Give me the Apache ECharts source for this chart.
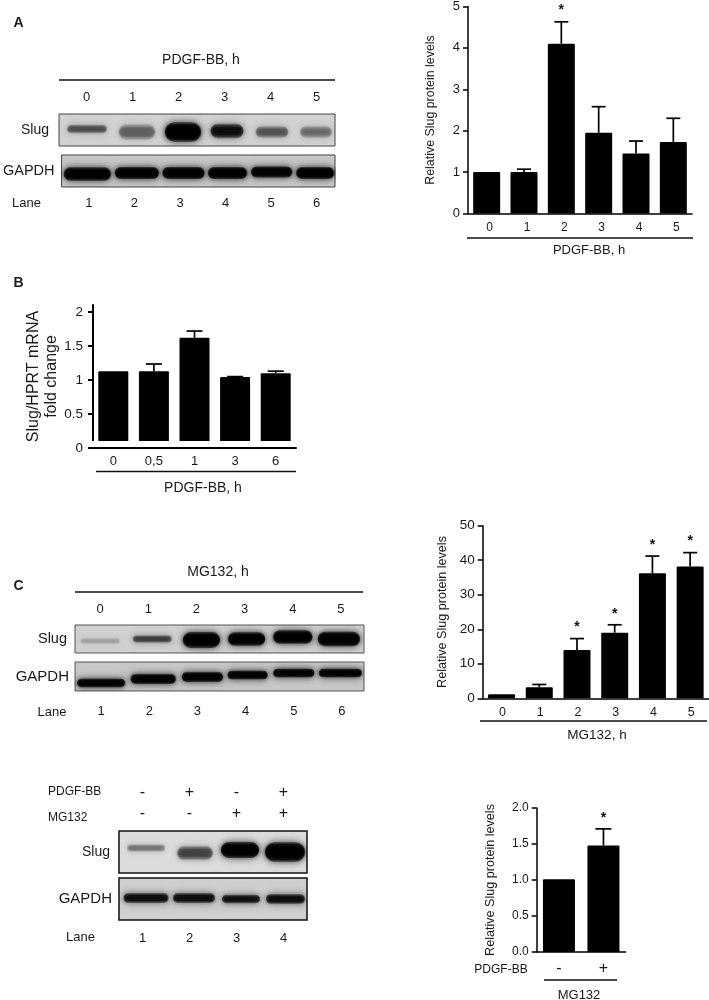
<!DOCTYPE html>
<html><head><meta charset="utf-8">
<script src="https://cdn.jsdelivr.net/npm/echarts@6/dist/echarts.min.js"></script>
<style>html,body{margin:0;padding:0;background:#fff}#c{width:709px;height:1000px}</style></head>
<body><div id="c"></div>
<script>
// ---- bar chart data ----
const hoursA = ['0','1','2','3','4','5'];
const slugA = [1, 1, 4.1, 1.95, 1.45, 1.73];
const slugAErr = [1, 1.07, 4.63, 2.58, 1.75, 2.3];
const slugAStar = [0, 0, 1, 0, 0, 0];

const hoursB = ['0','0,5','1','3','6'];
const mrnaB = [1.13, 1.13, 1.62, 1.045, 1.1];
const mrnaBErr = [1.13, 1.235, 1.72, 1.05, 1.13];
const mrnaBTicks = [0, 0.5, 1, 1.5, 2];

const hoursC = ['0','1','2','3','4','5'];
const slugC = [1.2, 3.2, 14, 19, 36.2, 38.2];
const slugCErr = [1.2, 4, 17.3, 21.3, 41.2, 42.2];
const slugCStar = [0, 0, 1, 1, 1, 1];

const signD = ['-', '+'];
const slugD = [1.01, 1.48];
const slugDErr = [1.01, 1.71];
const slugDStar = [0, 1];

// ---- blot band intensities (0..1) ----
const lanesSix = ['1','2','3','4','5','6'];
const lanesFour = ['1','2','3','4'];
const blotASlug = [0.28, 0.2, 1, 0.6, 0.24, 0.18];
const blotAGapdh = [0.97, 0.98, 0.98, 0.97, 0.95, 0.97];
const blotCSlug = [0.08, 0.34, 1, 1, 1, 1];
const blotCGapdh = [0.95, 0.95, 0.95, 0.95, 0.95, 0.95];
const blotDSlug = [0.18, 0.3, 1, 1];
const blotDGapdh = [0.62, 0.62, 0.62, 0.62];
const rowPdgf = ['-', '+', '-', '+'];
const rowMg = ['-', '-', '+', '+'];

const FONT = '"Liberation Sans", Arial, sans-serif';
const INK = '#1a1a1a';

const grid = [], xAxis = [], yAxis = [], series = [], graphic = [];

function text(str, x, y, size, opt) {
  opt = opt || {};
  graphic.push({type:'text', x, y, silent:true, rotation: opt.rotation || 0,
    style:{text:str, fontSize:size, fontFamily:opt.family||FONT, fontWeight:opt.weight||'normal',
      fill:INK, textAlign:opt.align||'center', textVerticalAlign:'middle', align:opt.align||'center', verticalAlign:'middle'}});
}
function rule(x1, x2, y, w) {
  graphic.push({type:'line', silent:true, shape:{x1, y1:y, x2, y2:y}, style:{stroke:'#111', lineWidth:w||1.5}});
}

function barChart(c) {
  const g = grid.length;
  grid.push({left:c.left, top:c.top, width:c.width, height:c.height});
  xAxis.push({gridIndex:g, type:'category', data:c.cats,
    axisLine:{lineStyle:{color:'#000', width:c.axisW||1.5}}, axisTick:{show:false},
    axisLabel:{color:INK, fontFamily:FONT, fontSize:c.xFont, margin:c.xMargin, padding:c.xPad||0}});
  const yLabel = {color:INK, fontFamily:FONT, fontSize:c.yFont, margin:c.yMargin||4, formatter:c.yFmt};
  const yTick = {show:true, length:c.tick||5, lineStyle:{color:'#000', width:c.axisW||1.5}};
  if (c.ticks) { yLabel.customValues = c.ticks; yTick.customValues = c.ticks; }
  const yDef = {gridIndex:g, type:'value', min:0, max:c.max,
    splitLine:{show:false},
    axisLine:{show:true, lineStyle:{color:'#000', width:c.axisW||1.5}},
    axisTick:yTick, axisLabel:yLabel,
    name:c.yName, nameLocation:'middle', nameGap:c.nameGap,
    nameTextStyle:{color:INK, fontFamily:FONT, fontSize:c.nameFont, lineHeight:c.nameLH||undefined}};
  if (c.interval) yDef.interval = c.interval;
  yAxis.push(yDef);
  const xi = xAxis.length-1, yi = yAxis.length-1;
  series.push({type:'bar', xAxisIndex:xi, yAxisIndex:yi, data:c.values, barWidth:c.barW,
    itemStyle:{color:'#000', borderRadius:[1,1,0,0]}, silent:true, animation:false});
  const capW = c.cap, stars = c.stars || [];
  series.push({type:'custom', xAxisIndex:xi, yAxisIndex:yi, silent:true, animation:false, clip:false, z:3,
    data:c.values.map((v,i)=>[i, v, c.errs[i], stars[i]||0]),
    encode:{x:0, y:2},
    renderItem:(p, api)=>{
      const a = api.coord([api.value(0), api.value(1)]), b = api.coord([api.value(0), api.value(2)]);
      const ls = {stroke:'#000', lineWidth:1.7};
      const ch = [];
      if (api.value(2) > api.value(1)) {
        ch.push({type:'line', shape:{x1:a[0], y1:a[1], x2:b[0], y2:b[1]}, style:ls});
        ch.push({type:'line', shape:{x1:b[0]-capW, y1:b[1], x2:b[0]+capW, y2:b[1]}, style:ls});
      }
      if (api.value(3)) ch.push({type:'text', x:b[0], y:b[1]-c.starGap, style:{text:'*', fontSize:14, fontWeight:'bold',
        fontFamily:FONT, fill:'#111', align:'center', verticalAlign:'middle'}});
      return {type:'group', children:ch};
    }});
}

function blot(c) {
  const g = grid.length;
  grid.push({show:true, left:c.left, top:c.top, width:c.width, height:c.height,
    backgroundColor:c.bg, borderColor:c.border, borderWidth:c.borderW||1});
  xAxis.push({gridIndex:g, type:'category', data:c.labels, position:c.pos||'bottom',
    axisLine:{show:false}, axisTick:{show:false},
    axisLabel:{color:INK, fontFamily:FONT, fontSize:c.labelFont||13, margin:c.labelMargin, padding:c.labelPad||0}});
  yAxis.push({gridIndex:g, type:'category', data:[c.name], axisLine:{show:false}, axisTick:{show:false},
    axisLabel:{color:INK, fontFamily:FONT, fontSize:c.nameFont, margin:c.nameMargin}});
  const L = c.layout;
  series.push({type:'custom', xAxisIndex:xAxis.length-1, yAxisIndex:yAxis.length-1, silent:true, animation:false, clip:true,
    data:c.values.map((v,i)=>[i, 0, v]), encode:{x:0, y:1},
    renderItem:(p, api)=>{
      const i = api.value(0), I = api.value(2), o = api.coord([i, 0]);
      const cx = o[0]+L.nx[i], cy = o[1]+L.ny[i], w = L.w[i], h = L.h[i];
      const ch = [];
      // stacked blurred pills: soft halo first, denser core on top
      [[1.22, 0.55, 8], [1, 0.6, 5], [0.72, 0.7, 3]].forEach(s => {
        const ww = w*(s[0]*0.14+0.84), hh = Math.max(h*s[0], 2);
        ch.push({type:'rect', shape:{x:cx-ww/2, y:cy-hh/2, width:ww, height:hh, r:hh/2},
          style:{fill:'rgba(0,0,0,'+(I*s[1]).toFixed(3)+')', shadowBlur:s[2], shadowColor:'#000'}});
      });
      return {type:'group', children:ch};
    }});
}

// ---------- Panel A blot ----------
blot({left:59, top:114, width:276, height:32, bg:'#d2d2d2', border:'#444', name:'Slug', nameFont:14, nameMargin:10,
  values:blotASlug, labels:hoursA, pos:'top', labelMargin:10, labelPad:[0,0,0,9],
  layout:{nx:[5,9,9,7,6,4], ny:[-1,2,2,1,2,2], w:[40,37,36,33,33,32], h:[7,13,16,12,10,10]}});
blot({left:59, top:155, width:276, height:32, bg:'#c8c8c8', border:'#444', name:'GAPDH', nameFont:14.5, nameMargin:7,
  values:blotAGapdh, labels:lanesSix, pos:'bottom', labelMargin:10, labelPad:[0,0,0,9],
  layout:{nx:[3,7,8,6.5,5,3], ny:[3,2,2,2,1,2], w:[47,44,42,39,41,38], h:[11,10,10,10,9,10]}});
text('PDGF-BB, h', 201, 60, 14);
rule(59, 335, 80);
text('Lane', 26.5, 203, 13);

// ---------- Panel A bars ----------
barChart({left:468, top:5.5, width:224, height:208, cats:hoursA, values:slugA, errs:slugAErr, stars:slugAStar, max:5, interval:1,
  barW:27, cap:7, starGap:12, xFont:12, xMargin:8, xPad:[0,0,0,6], yFont:13, yMargin:8,
  yName:'Relative Slug protein levels', nameGap:31, nameFont:12.4});
rule(467, 693, 238);
text('PDGF-BB, h', 589, 250, 13);

// ---------- Panel B bars ----------
barChart({left:93, top:305, width:203, height:143, cats:hoursB, values:mrnaB, errs:mrnaBErr, max:2.103, ticks:mrnaBTicks,
  barW:30, cap:8, starGap:10, xFont:13, xMargin:7, yFont:13.5, yMargin:10, axisW:2,
  yName:'Slug/HPRT mRNA\nfold change', nameGap:30, nameFont:16, nameLH:18});
// the reference leaves a thin white gap between the bars and the baseline
graphic.push({type:'rect', silent:true, z:50, shape:{x:92, y:441, width:204, height:6}, style:{fill:'#fff'}});
rule(88, 93, 448, 2);
rule(96, 296, 471.5);
text('PDGF-BB, h', 203, 488, 14);

// ---------- Panel C blot ----------
blot({left:75, top:625, width:289, height:28, bg:'#d0d0d0', border:'#555', name:'Slug', nameFont:14.5, nameMargin:8,
  values:blotCSlug, labels:hoursC, pos:'top', labelMargin:9, labelPad:[0,0,0,2],
  layout:{nx:[1,5,6,3,1,-1], ny:[2,0,1,0,-2,0], w:[40,39,37,37,39,42], h:[5,6,13,11,11,12]}});
blot({left:75, top:662, width:289, height:29, bg:'#c8c8c8', border:'#555', name:'GAPDH', nameFont:15, nameMargin:6,
  values:blotCGapdh, labels:lanesSix, pos:'bottom', labelMargin:14, labelPad:[0,0,0,4],
  layout:{nx:[2,6,7,4,2,0.5], ny:[6.5,2.5,0.5,-1.5,-3.5,-3.5], w:[48,45,41,40,41,43], h:[7,8,8,7,7,7]}});
text('MG132, h', 218, 572, 14);
rule(75, 363, 592);
text('Lane', 52, 712, 13);

// ---------- Panel C bars ----------
barChart({left:482.7, top:525.7, width:226.3, height:172.6, cats:hoursC, values:slugC, errs:slugCErr, stars:slugCStar, max:50, interval:10,
  barW:27, cap:7, starGap:11, xFont:12.5, xMargin:8, xPad:[0,0,0,2], yFont:13.5, yMargin:8,
  yName:'Relative Slug protein levels', nameGap:34, nameFont:12.6});
rule(480, 707, 721);
text('MG132, h', 597, 735, 13.5);

// ---------- Panel D blot ----------
const dBlotGrid = grid.length;
blot({left:119, top:831, width:188, height:42, bg:'#dcdcdc', border:'#111', borderW:1.5, name:'Slug', nameFont:14, nameMargin:9,
  values:blotDSlug, labels:rowMg, pos:'top', labelMargin:9, labelFont:16,
  layout:{nx:[3.5,5.5,3.5,1.5], ny:[-4,1,-2,0], w:[38,36,38,40], h:[6,12,13,16]}});
blot({left:119, top:878, width:188, height:42, bg:'#cfcfcf', border:'#111', borderW:1.5, name:'GAPDH', nameFont:15, nameMargin:7,
  values:blotDGapdh, labels:lanesFour, pos:'bottom', labelMargin:12, labelFont:13,
  layout:{nx:[3.5,4.5,4.5,2], ny:[-1,-1,0,0], w:[45,42,38,39], h:[8,8,7,8]}});
// upper treatment row: its own label-only axis on the same blot frame
xAxis.push({gridIndex:dBlotGrid, type:'category', data:rowPdgf, position:'top', offset:21,
  axisLine:{show:false}, axisTick:{show:false},
  axisLabel:{color:INK, fontFamily:FONT, fontSize:16, margin:9}});
text('PDGF-BB', 48, 792, 12, {align:'left'});
text('MG132', 48, 818, 12, {align:'left'});
text('Lane', 80.5, 937, 13);

// ---------- Panel D bars ----------
barChart({left:536.7, top:808, width:89, height:144, cats:signD, values:slugD, errs:slugDErr, stars:slugDStar, max:2, interval:0.5,
  barW:32, cap:8, starGap:11, xFont:16, xMargin:9, yFont:12, yMargin:8, yFmt:v=>v.toFixed(1),
  yName:'Relative Slug protein levels', nameGap:40, nameFont:12.6});
rule(544, 617, 980);
text('PDGF-BB', 501, 970, 12);
text('MG132', 579, 995, 13);

// ---------- Panel letters ----------
text('A', 18.5, 23, 14, {weight:'bold'});
text('B', 18.5, 283, 14, {weight:'bold'});
text('C', 18.5, 586, 14, {weight:'bold'});

const chart = echarts.init(document.getElementById('c'), null, {renderer:'canvas', width:709, height:1000});
chart.setOption({animation:false, backgroundColor:'#fff', textStyle:{fontFamily:FONT}, grid, xAxis, yAxis, series, graphic});
</script></body></html>
